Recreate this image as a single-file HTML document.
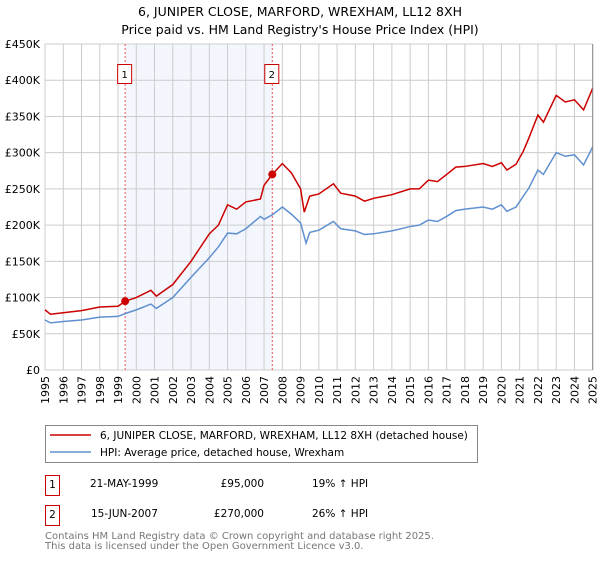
<!DOCTYPE html>
<html><head><meta charset="utf-8"><style>
body{margin:0;background:#fff;width:600px;height:560px;overflow:hidden;font-family:"DejaVu Sans","Liberation Sans",sans-serif}
</style></head><body>
<svg id="chart" width="600" height="560" xmlns="http://www.w3.org/2000/svg" font-family="DejaVu Sans, Liberation Sans, sans-serif">
<text x="300" y="16" text-anchor="middle" font-size="12.5">6, JUNIPER CLOSE, MARFORD, WREXHAM, LL12 8XH</text>
<text x="300" y="34" text-anchor="middle" font-size="12.5">Price paid vs. HM Land Registry's House Price Index (HPI)</text>
<g id="plot"></g>
<g>
<rect x="45.5" y="425.5" width="432" height="37" fill="#fff" stroke="#888"/>
<line x1="50" y1="435" x2="91" y2="435" stroke="#cc0000" stroke-width="1.5"/>
<text x="100" y="439" font-size="10.5">6, JUNIPER CLOSE, MARFORD, WREXHAM, LL12 8XH (detached house)</text>
<line x1="50" y1="452" x2="91" y2="452" stroke="#6090d0" stroke-width="1.5"/>
<text x="100" y="456" font-size="10.5">HPI: Average price, detached house, Wrexham</text>
</g>
<g font-size="10.5">
<rect x="45.5" y="475.5" width="14" height="20" fill="#fff" stroke="#cc0000"/>
<text x="52.5" y="488" text-anchor="middle">1</text>
<text x="90" y="487">21-MAY-1999</text>
<text x="264" y="487" text-anchor="end">£95,000</text>
<text x="312" y="487">19% ↑ HPI</text>
<rect x="45.5" y="505.5" width="14" height="20" fill="#fff" stroke="#cc0000"/>
<text x="52.5" y="518" text-anchor="middle">2</text>
<text x="91" y="517">15-JUN-2007</text>
<text x="264" y="517" text-anchor="end">£270,000</text>
<text x="312" y="517">26% ↑ HPI</text>
</g>
<g font-size="10" fill="#777">
<text x="45" y="539">Contains HM Land Registry data © Crown copyright and database right 2025.</text>
<text x="45" y="549">This data is licensed under the Open Government Licence v3.0.</text>
</g>
</svg>
<script>
const hpiYears=[1995,1995.3,1996,1997,1998,1999,1999.4,2000,2000.8,2001.1,2002,2003,2004,2004.5,2005,2005.5,2006,2006.8,2007,2007.5,2008,2008.5,2009,2009.3,2009.5,2010,2010.8,2011.2,2012,2012.5,2013,2014,2015,2015.5,2016,2016.5,2017,2017.5,2018,2019,2019.5,2020,2020.3,2020.8,2021.2,2021.5,2022,2022.3,2023,2023.5,2024,2024.5,2025];
const hpiValues=[69,65,67,69,73,74,78,83,91,85,100,128,155,170,189,188,195,212,208,215,225,215,203,175,190,193,205,195,192,187,188,192,198,200,207,205,212,220,222,225,222,228,219,225,240,251,276,270,300,295,297,283,308];
const priceYears=[1995,1995.3,1996,1997,1998,1999,1999.4,2000,2000.8,2001.1,2002,2003,2004,2004.5,2005,2005.5,2006,2006.8,2007,2007.45,2008,2008.5,2009,2009.2,2009.5,2010,2010.8,2011.2,2012,2012.5,2013,2014,2015,2015.5,2016,2016.5,2017,2017.5,2018,2019,2019.5,2020,2020.3,2020.8,2021.2,2021.5,2022,2022.3,2023,2023.5,2024,2024.5,2025];
const priceValues=[83,77,79,82,87,88,95,100,110,102,118,150,188,200,228,222,232,236,255,270,285,272,250,218,240,243,257,244,240,233,237,242,250,250,262,260,270,280,281,285,281,286,276,284,302,320,352,342,379,370,373,359,389];
const saleYears=[1999.39,2007.45];
const saleValues=[95,270];
const saleLabels=["1","2"];
const yTicks=[0,50,100,150,200,250,300,350,400,450];
const yTickLabels=["£0","£50K","£100K","£150K","£200K","£250K","£300K","£350K","£400K","£450K"];
const xTicks=[1995,1996,1997,1998,1999,2000,2001,2002,2003,2004,2005,2006,2007,2008,2009,2010,2011,2012,2013,2014,2015,2016,2017,2018,2019,2020,2021,2022,2023,2024,2025];

const X0=45,X1=592.7,Y0=370,Y1=44;
const xs=y=>X0+(y-1995)/30*(X1-X0);
const ys=v=>Y0-v/450*(Y0-Y1);
const NS="http://www.w3.org/2000/svg";
const g=document.getElementById('plot');
function mk(t,a){const e=document.createElementNS(NS,t);for(const k in a)e.setAttribute(k,a[k]);g.appendChild(e);return e;}
let e;
e=mk('rect',{x:xs(saleYears[0]),y:Y1,width:xs(saleYears[1])-xs(saleYears[0]),height:Y0-Y1,fill:'#eef3fc',opacity:0.7});


xTicks.forEach(t=>{
 e=mk('line',{x1:xs(t),x2:xs(t),y1:Y1,y2:Y0,stroke:'#cccccc'});
 
 
 const x=xs(t);
 e=mk('text',{x:0,y:0,transform:`translate(${x+4},${Y0+6}) rotate(-90)`,'text-anchor':'end','font-size':'11'});
 e.textContent=t;
 
 
});
yTicks.forEach((t,i)=>{
 e=mk('line',{x1:X0,x2:X1,y1:ys(t),y2:ys(t),stroke:'#cccccc'});
 
 
 e=mk('text',{x:40,y:ys(t)+4,'text-anchor':'end','font-size':'11'});
 e.textContent=yTickLabels[i];
 
 
});
saleYears.forEach((s,i)=>{
 e=mk('line',{x1:xs(s),x2:xs(s),y1:Y1,y2:Y0,stroke:'#ee5555','stroke-dasharray':'2,2'});
 
 
 e=mk('rect',{x:xs(s)-7.5,y:64.5,width:14,height:19,fill:'#fff',stroke:'#cc0000'});
 
 
 e=mk('text',{x:xs(s)-0.5,y:78,'text-anchor':'middle','font-size':'10'});
 e.textContent=saleLabels[i];
 
 
});
e=mk('polyline',{points:hpiYears.map((y,i)=>xs(y)+','+ys(hpiValues[i])).join(' '),fill:'none',stroke:'#6090d0','stroke-width':1.5});


e=mk('polyline',{points:priceYears.map((y,i)=>xs(y)+','+ys(priceValues[i])).join(' '),fill:'none',stroke:'#cc0000','stroke-width':1.5});


saleYears.forEach((s,i)=>{
 e=mk('circle',{cx:xs(s),cy:ys(saleValues[i]),r:4,fill:'#cc0000'});
 
 
});
e=mk('line',{x1:X1,x2:X1,y1:Y1,y2:Y0,stroke:'#888'});


</script>
</body></html>
